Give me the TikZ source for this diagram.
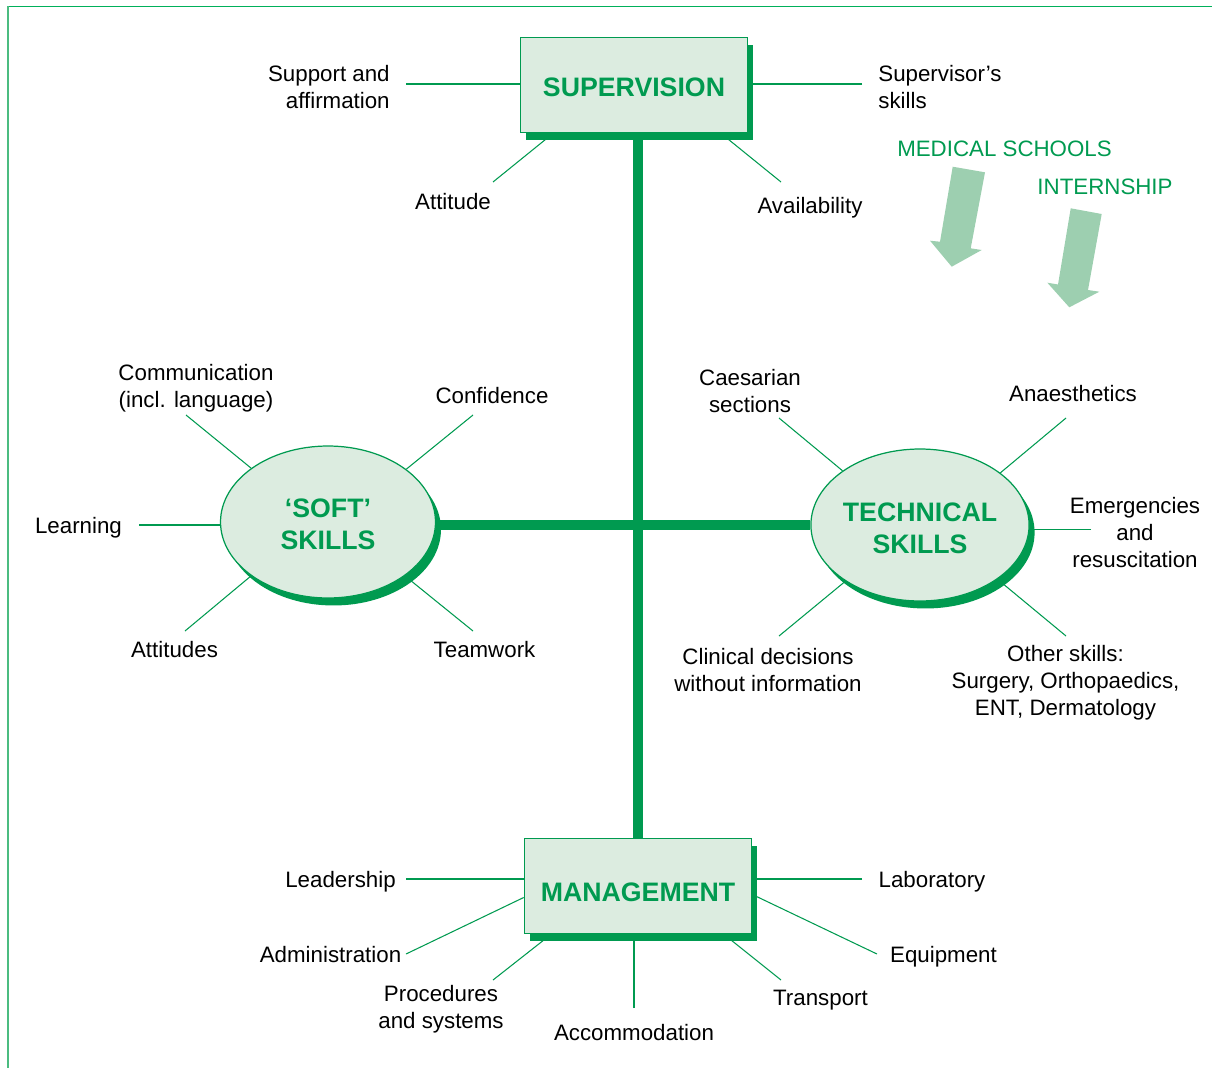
\documentclass[tikz,border=0pt]{standalone}
\usepackage{fontspec}
\setmainfont{Liberation Sans}
\usetikzlibrary{calc,shapes.geometric,shadows,backgrounds}

\definecolor{skillgreen}{RGB}{0,154,80}
\definecolor{skillfill}{RGB}{220,236,224}
\definecolor{arrowfill}{RGB}{157,207,176}
\definecolor{framegreen}{RGB}{0,176,90}
\definecolor{framelight}{RGB}{75,188,128}

\begin{document}
\begin{tikzpicture}[x=0.02cm, y=-0.02cm,
    every node/.style={font=\fontsize{12.7}{15.3}\selectfont},
    item/.style={align=center, inner sep=0pt},
    word/.style={item, text height=0.716em, text depth=0pt, yshift=-0.035cm},
    hub/.style={draw=skillgreen, line width=0.7pt, fill=skillfill, text=skillgreen,
      font=\fontsize{15.2}{18.2}\selectfont\bfseries, align=center,
      drop shadow={shadow xshift=0.11cm, shadow yshift=-0.15cm, fill=skillgreen, opacity=1}},
    hubbox/.style={hub, rectangle, minimum width=4.55cm, minimum height=1.89cm},
    hubellipse/.style={hub, ellipse, inner sep=0pt, minimum width=4.3cm, minimum height=3.04cm},
    spoke/.style={draw=skillgreen, line width=0.6pt},
    trunk/.style={draw=skillgreen, line width=5.8pt},
    stage/.style={text=skillgreen}]

    \useasboundingbox (0,0) rectangle (1212,1068);

    % frame
    \draw[framegreen, line width=0.9pt] (8,6.5) -- (1212,6.5);
    \draw[framelight, line width=0.9pt] (8,6.5) -- (8,1068);

    % --- the four hubs ---
    \node[hubbox, text height=13.3pt] (sup) at (634,85) {SUPERVISION};
    \node[hubbox, text height=17.6pt] (mgmt) at (638,886) {MANAGEMENT};
    \node[hubellipse] (soft) at (328,522) {\rule{0pt}{13.6pt}‘SOFT’\\SKILLS};
    \node[hubellipse] (tech) at (920,525) {\rule{0pt}{14.4pt}TECHNICAL\\SKILLS};

    % --- labels round supervision ---
    \node[item, anchor=east, align=right] (supaff) at (390,87) {Support and\\affirmation};
    \node[item, anchor=west, align=left] (supskill) at (878,87) {Supervisor’s\\skills};
    \node[word] (att) at (453,201) {Attitude};
    \node[word] (avail) at (810,205) {Availability};

    % --- labels round soft skills ---
    \node[item] (comm) at (196,388) {Communication\\(incl. language)};
    \node[word] (conf) at (492,395) {Confidence};
    \node[word] (learn) at (78.5,525) {Learning};
    \node[word] (attd) at (174.5,649) {Attitudes};
    \node[word] (team) at (484.5,649) {Teamwork};

    % --- labels round technical skills ---
    \node[item] (caes) at (750,391) {Caesarian\\sections};
    \node[word] (anaes) at (1073,393) {Anaesthetics};
    \node[item] (emerg) at (1135,532.5) {Emergencies\\and\\resuscitation};
    \node[item] (clin) at (768,670) {Clinical decisions\\without information};
    \node[item] (other) at (1065.5,683) {Other skills:\\Surgery, Orthopaedics,\\ENT, Dermatology};

    % --- labels round management ---
    \node[word] (lead) at (340.5,879) {Leadership};
    \node[word] (admin) at (330.5,954) {Administration};
    \node[item] (proc) at (441,1009) {Procedures\\and systems};
    \node[word] (accom) at (634,1032) {Accommodation};
    \node[word] (transp) at (820.5,997) {Transport};
    \node[word] (equip) at (943.5,954) {Equipment};
    \node[word] (lab) at (932,879) {Laboratory};

    % training stages
    \node[stage, word] (medsch) at (1004.5,148) {MEDICAL SCHOOLS};
    \node[stage, word] (intern) at (1105,186) {INTERNSHIP};
    \fill[arrowfill] (952.7,166.7) -- (985,172.3) -- (970.7,248.3) -- (981.7,250)
      -- (951.7,266.7) -- (930,240.7) -- (940,241.7) -- cycle;
    \fill[arrowfill] (1070.7,208.3) -- (1101.7,214) -- (1088,290) -- (1099.3,291.7)
      -- (1069.3,307.3) -- (1047.3,282.7) -- (1058,284.5) -- cycle;

    % spoke ends
    \coordinate (supaff-tip) at (406,84);
    \coordinate (supskill-tip) at (862,84);
    \coordinate (att-tip) at (493,182);
    \coordinate (avail-tip) at (781,182);
    \coordinate (comm-tip) at (186,415);
    \coordinate (conf-tip) at (473,415);
    \coordinate (learn-tip) at (139,525);
    \coordinate (attd-tip) at (185,631);
    \coordinate (team-tip) at (473,631);
    \coordinate (caes-tip) at (779,418);
    \coordinate (anaes-tip) at (1066,418);
    \coordinate (emerg-tip) at (1091,529.5);
    \coordinate (clin-tip) at (779,636);
    \coordinate (other-tip) at (1066,636);
    \coordinate (lead-tip) at (406,879);
    \coordinate (admin-tip) at (406,954);
    \coordinate (proc-tip) at (493,980);
    \coordinate (accom-tip) at (634,1008);
    \coordinate (transp-tip) at (781,980);
    \coordinate (equip-tip) at (877,954);
    \coordinate (lab-tip) at (862,879);

    \begin{scope}[on background layer]
      % trunk and cross bar
      \draw[trunk] (sup.south -| mgmt.north) -- (mgmt.north);
      \draw[trunk] (soft.east |- tech.west) -- (tech.west);

      % spokes
      \draw[spoke] (supaff-tip) -- (supaff-tip -| sup.west);
      \draw[spoke] (supskill-tip) -- (supskill-tip -| sup.east);
      \draw[spoke] (att-tip) -- ($(sup.south west)+(34,0)$);
      \draw[spoke] (avail-tip) -- ($(sup.south east)+(-28,0)$);

      \draw[spoke] (comm-tip) -- (soft.145);
      \draw[spoke] (conf-tip) -- (soft.34);
      \draw[spoke] (learn-tip) -- (learn-tip -| soft.west);
      \draw[spoke] (attd-tip) -- (soft.215);
      \draw[spoke] (team-tip) -- (soft.325);

      \draw[spoke] (caes-tip) -- (tech.145);
      \draw[spoke] (anaes-tip) -- (tech.33);
      \draw[spoke] (emerg-tip) -- (emerg-tip -| tech.east);
      \draw[spoke] (clin-tip) -- (tech.217);
      \draw[spoke] (other-tip) -- (tech.325);

      \draw[spoke] (lead-tip) -- (lead-tip -| mgmt.west);
      \draw[spoke] (admin-tip) -- ($(mgmt.west)+(0,11.5)$);
      \draw[spoke] (proc-tip) -- ($(mgmt.south west)+(28,0)$);
      \draw[spoke] (accom-tip) -- (accom-tip |- mgmt.south);
      \draw[spoke] (transp-tip) -- ($(mgmt.south east)+(-29,0)$);
      \draw[spoke] (equip-tip) -- ($(mgmt.east)+(0,8.5)$);
      \draw[spoke] (lab-tip) -- (lab-tip -| mgmt.east);
    \end{scope}

\end{tikzpicture}
\end{document}
